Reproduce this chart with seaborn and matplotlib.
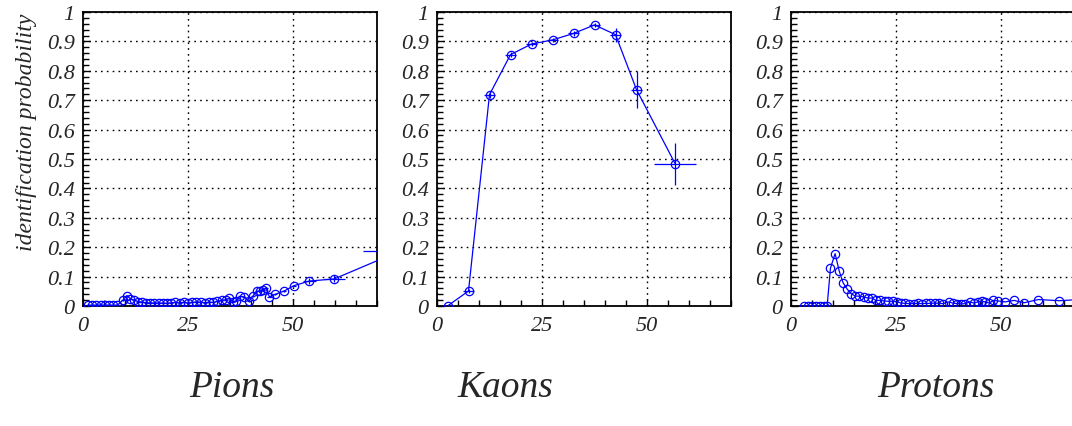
import numpy as np
import pandas as pd
import matplotlib
matplotlib.use("Agg")
import matplotlib.pyplot as plt
import seaborn as sns
from matplotlib.ticker import MultipleLocator, FixedLocator, FuncFormatter

# ---- data: identification probability vs momentum ----
pion_p = [1.2, 2.2, 3.2, 4.2, 5.2, 6.2, 7.2, 8.2, 9.5, 10.4, 11.3, 12.2, 13.2, 14.1,
          15.1, 16.0, 17.0, 18.0, 19.0, 20.0, 21.0, 22.0, 23.0, 24.0, 25.0, 26.0,
          27.0, 28.0, 29.0, 30.0, 31.0, 32.0, 33.0, 34.0, 34.8, 35.7, 36.5, 37.3,
          38.4, 39.5, 40.4, 41.4, 42.2, 42.8, 43.5, 44.4, 45.8, 47.9, 50.2, 53.9,
          59.8, 75.3]
pion_eff = [0.003, 0.003, 0.003, 0.003, 0.003, 0.003, 0.003, 0.003, 0.020, 0.035,
            0.025, 0.019, 0.015, 0.013, 0.011, 0.011, 0.010, 0.010, 0.010, 0.009,
            0.011, 0.012, 0.010, 0.013, 0.010, 0.012, 0.014, 0.013, 0.011, 0.013,
            0.012, 0.016, 0.019, 0.021, 0.026, 0.014, 0.018, 0.033, 0.031, 0.016,
            0.033, 0.050, 0.051, 0.053, 0.061, 0.031, 0.040, 0.051, 0.069, 0.085,
            0.092, 0.186]
pion_perr = [0.5] * 49 + [1.5, 2.5, 8.6]
pion_err = [0.002] * 49 + [0.010, 0.012, 0.030]

kaon_p = [2.5, 7.5, 12.5, 17.5, 22.5, 27.5, 32.5, 37.5, 42.5, 47.5, 56.7]
kaon_eff = [0.0, 0.051, 0.719, 0.855, 0.891, 0.905, 0.927, 0.956, 0.923, 0.736, 0.484]
kaon_perr = [1.3, 1.3, 1.3, 1.3, 1.3, 1.3, 1.3, 1.3, 1.3, 1.3, 5.0]
kaon_err = [0.003, 0.006, 0.010, 0.008, 0.007, 0.007, 0.007, 0.008, 0.024, 0.063, 0.071]

proton_p = [3.0, 4.0, 5.0, 6.0, 7.0, 7.8, 8.6, 9.4, 10.5, 11.5, 12.4, 13.4, 14.3,
            15.3, 16.3, 17.3, 18.3, 19.3, 20.2, 21.2, 22.3, 23.2, 24.2, 25.2, 26.2,
            27.2, 28.2, 29.2, 30.2, 31.2, 32.2, 33.2, 34.2, 35.2, 36.2, 37.5, 38.5,
            39.5, 40.5, 41.5, 42.5, 43.6, 44.5, 45.4, 46.3, 47.2, 48.2, 49.4, 51.0,
            53.1, 55.5, 58.9, 63.9, 71.0]
proton_eff = [0.0, 0.0, 0.0, 0.0, 0.0, 0.0, 0.0, 0.129, 0.178, 0.118, 0.079, 0.057,
              0.042, 0.034, 0.033, 0.031, 0.027, 0.027, 0.019, 0.019, 0.017, 0.016,
              0.016, 0.014, 0.010, 0.009, 0.008, 0.008, 0.009, 0.008, 0.009, 0.009,
              0.010, 0.009, 0.008, 0.014, 0.010, 0.008, 0.007, 0.008, 0.014, 0.010,
              0.014, 0.016, 0.014, 0.010, 0.019, 0.017, 0.014, 0.019, 0.011, 0.022,
              0.018, 0.024]

titles = ["Pions", "Kaons", "Protons"]
ylabel = "identification probability"
y_ticks = [0, 0.1, 0.2, 0.3, 0.4, 0.5, 0.6, 0.7, 0.8, 0.9, 1.0]
x_ticks = [0, 25, 50]

sns.set_theme(style="ticks")
plt.rcParams["font.family"] = ["Liberation Serif", "DejaVu Serif"]
plt.rcParams["font.style"] = "italic"

fig = plt.figure(figsize=(10.72, 4.27), dpi=100)
W, H = 1072, 427
lefts = [83, 437, 791]
title_x = [232, 505, 936]
ax_w, ax_top, ax_bot = 294, 13, 307

series = [
    (pion_p, pion_eff, pion_perr, pion_err),
    (kaon_p, kaon_eff, kaon_perr, kaon_err),
    (proton_p, proton_eff, None, None),
]

blue = "#0000ff"
for i, (px, py, pxe, pye) in enumerate(series):
    ax = fig.add_axes([lefts[i] / W, (H - ax_bot) / H, ax_w / W, (ax_bot - ax_top) / H])
    df = pd.DataFrame({"p": px, "eff": py})
    if pxe is not None:
        ax.errorbar(px, py, xerr=pxe, yerr=pye, fmt="none", ecolor=blue,
                    elinewidth=0.9, capsize=0, zorder=3)
    sns.lineplot(data=df, x="p", y="eff", ax=ax, sort=False, color=blue,
                 linewidth=0.9, marker="o", markersize=6,
                 markerfacecolor="none", markeredgecolor=blue,
                 markeredgewidth=0.9, zorder=4)
    ax.set_xlim(0, 70)
    ax.set_ylim(0, 1)
    ax.xaxis.set_major_locator(FixedLocator(x_ticks))
    ax.xaxis.set_minor_locator(MultipleLocator(5))
    ax.yaxis.set_major_locator(FixedLocator(y_ticks))
    ax.yaxis.set_minor_locator(MultipleLocator(0.02))
    ax.yaxis.set_major_formatter(FuncFormatter(lambda v, pos: "%g" % round(v, 2)))
    ax.tick_params(axis="both", which="both", direction="in", top=False, right=False,
                   color="black", labelsize=16, width=1.0)
    ax.tick_params(axis="both", which="major", length=5)
    ax.tick_params(axis="both", which="minor", length=4)
    ax.tick_params(axis="x", pad=7)
    ax.tick_params(axis="y", pad=6)
    ax.grid(True, which="major", color="black", linestyle=(0, (1.2, 3.0)), linewidth=1.0)
    for s in ax.spines.values():
        s.set_visible(True)
        s.set_color("black")
        s.set_linewidth(1.3)
    ax.set_xlabel("")
    ax.set_ylabel("")
    fig.text(title_x[i] / W, (H - 388) / H, titles[i],
             ha="center", va="center", fontsize=27, style="italic")
    for lab in ax.get_xticklabels() + ax.get_yticklabels():
        lab.set_fontstyle("italic")

fig.text(27 / W, (H - 132) / H, ylabel, rotation=90, ha="center", va="center",
         fontsize=17, style="italic")

fig.savefig("out.png", dpi=100)
